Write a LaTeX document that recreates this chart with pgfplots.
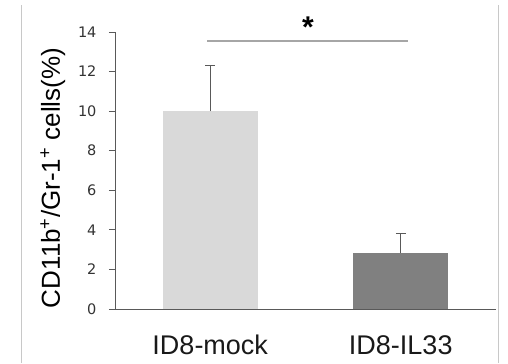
\documentclass[border=0pt]{standalone}
\usepackage{fontspec}
\setmainfont{Liberation Sans}
\newfontfamily\tickfont{DejaVu Sans}
\usepackage{pgfplots}
\pgfplotsset{compat=1.18}
\definecolor{barA}{HTML}{D9D9D9}
\definecolor{barB}{HTML}{808080}
\definecolor{axisc}{HTML}{595959}
\definecolor{sigc}{HTML}{A6A6A6}
\definecolor{framec}{HTML}{C8C8C8}
\begin{document}
\begin{tikzpicture}
\begin{axis}[
  scale only axis,
  width=381pt, height=277pt,
  xmin=-0.5, xmax=1.5,
  ymin=0, ymax=14,
  axis x line=bottom, axis y line=left,
  axis line style={-, axisc, line width=0.9pt},
  xtick={0,1}, xticklabels={ID8-mock, ID8-IL33},
  xtick style={draw=none},
  xticklabel style={anchor=base, yshift=-39pt, font=\fontsize{27}{30}\selectfont, text=black!90},
  ytick={0,2,...,14},
  tick align=outside,
  major tick length=6pt,
  ytick style={axisc, line width=0.9pt},
  yticklabel style={font=\tickfont\fontsize{14.5}{16}\selectfont, text=black!80, xshift=-9pt},
  /pgf/number format/assume math mode=true,
  ylabel={CD11b\textsuperscript{+}/Gr-1\textsuperscript{+} cells(\%)},
  ylabel style={at={(axis description cs:-0.163,0.473)}, anchor=center, font=\fontsize{26}{30}\selectfont},
  clip=false,
]
\addplot[ybar, bar shift=0pt, bar width=95pt, fill=barA, draw=none,
  error bars/.cd, y dir=plus, y explicit,
  error bar style={line width=1pt, axisc},
  error mark options={rotate=90, mark size=5pt, line width=1pt, axisc}]
  coordinates {(0,10) +- (0,2.33)};
\addplot[ybar, bar shift=0pt, bar width=95pt, fill=barB, draw=none,
  error bars/.cd, y dir=plus, y explicit,
  error bar style={line width=1pt, axisc},
  error mark options={rotate=90, mark size=5pt, line width=1pt, axisc}]
  coordinates {(1,2.83) +- (0,0.97)};
\addplot[sigc, line width=1.2pt, mark=none] coordinates {(-0.017,13.55) (1.04,13.55)};
\node[font=\fontsize{30}{30}\selectfont\bfseries] at (axis cs:0.513,14.25) {*};
\end{axis}
\draw[framec, line width=0.8pt] (-94pt,-54pt) -- (-94pt,304pt);
\draw[framec, line width=0.8pt] (383pt,-54pt) -- (383pt,304pt);
\path[use as bounding box] (-115pt,-54pt) rectangle (393pt,309pt);
\end{tikzpicture}
\end{document}
